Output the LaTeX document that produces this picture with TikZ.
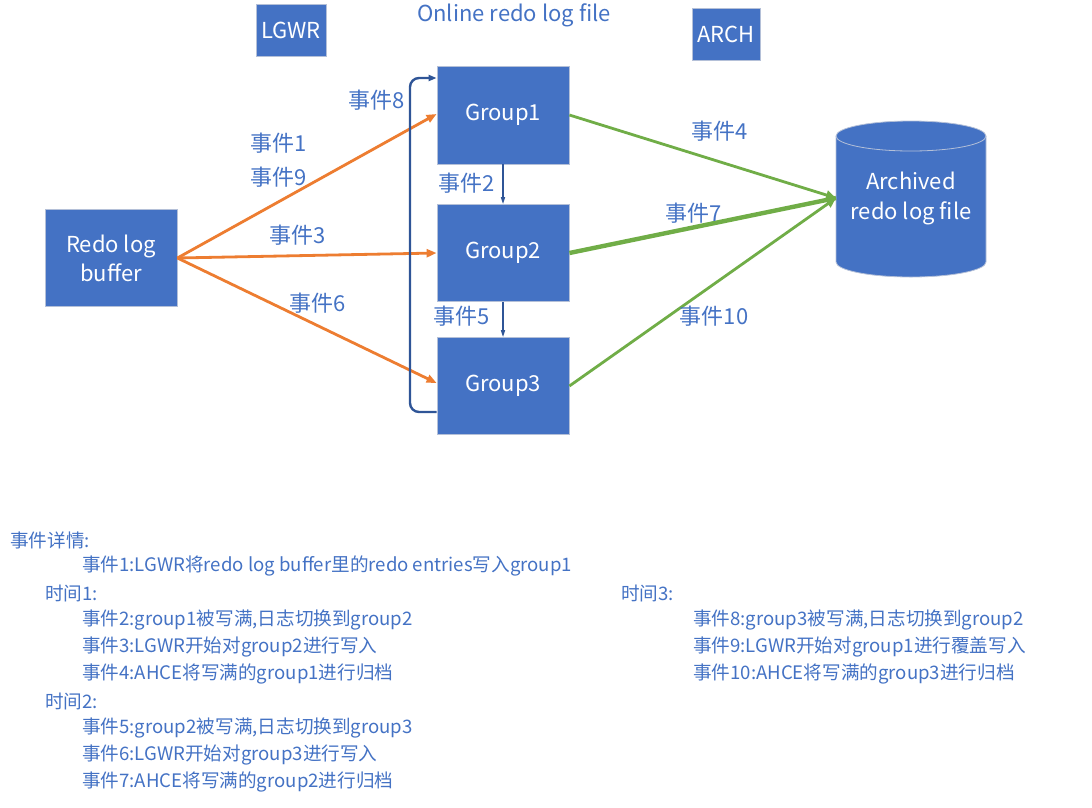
\documentclass[tikz,border=0pt]{standalone}
\usepackage{fontspec}
\setmainfont{Noto Sans CJK SC}
\usetikzlibrary{arrows.meta,calc}
\definecolor{boxblue}{HTML}{4472C4}
\definecolor{txtblue}{HTML}{4472C4}
\definecolor{darkblue}{HTML}{2F5597}
\definecolor{orng}{HTML}{ED7D31}
\definecolor{grn}{HTML}{70AD47}
\definecolor{edgegray}{HTML}{B4C0D8}
\tikzset{
  box/.style={draw=edgegray, line width=0.8pt, fill=boxblue, text=white, font=\fontsize{22}{29}\selectfont, align=center, inner sep=0pt},
  lbl/.style={text=txtblue, font=\fontsize{22}{26}\selectfont, inner sep=0pt},
  det/.style={text=txtblue, font=\fontsize{18.6}{20}\selectfont, inner sep=0pt, anchor=west},
  oarrow/.style={draw=orng, line width=2.8pt, -{Triangle[length=10pt,width=8pt]}},
  garrow/.style={draw=grn, line width=2.8pt, -{Triangle[length=10pt,width=9pt]}},
  barrow/.style={draw=darkblue, line width=1.4pt, -{Triangle[length=7pt,width=4pt]}},
}
\begin{document}
\begin{tikzpicture}[x=1pt,y=-1pt]
\useasboundingbox (0,0) rectangle (1092,807);
% top boxes
\node[box, minimum width=70pt, minimum height=52pt] (lgwr) at (291,30) {LGWR};
\node[box, minimum width=68pt, minimum height=52pt] (arch) at (726,34) {ARCH};
\node[lbl] (title) at (514,15) {Online redo log file};
% groups
\node[box, minimum width=132pt, minimum height=98pt] (g1) at (503,115) {Group1};
\node[box, minimum width=132pt, minimum height=97pt] (g2) at (503,253) {Group2};
\node[box, minimum width=132pt, minimum height=97pt] (g3) at (503,386) {Group3};
\node[box, minimum width=132pt, minimum height=97pt] (buf) at (111,258) {Redo log\\buffer};
% cylinder
\fill[boxblue] (836,136) -- (836,262) arc[start angle=180, end angle=0, x radius=75, y radius=15] -- (986,136) arc[start angle=0, end angle=-180, x radius=75, y radius=15] -- cycle;
\draw[edgegray, line width=0.8pt] (836,136) -- (836,262) arc[start angle=180, end angle=0, x radius=75, y radius=15] -- (986,136) arc[start angle=0, end angle=-180, x radius=75, y radius=15];
\draw[edgegray, line width=0.8pt] (836,136) arc[start angle=180, end angle=0, x radius=75, y radius=15];
\node[text=white, font=\fontsize{22}{30}\selectfont, align=center, inner sep=0pt] (arc) at (911,198) {Archived\\redo log file};
\coordinate (arcL) at (836,198);
% orange arrows
\draw[oarrow] (buf.east) -- ([yshift=1pt]g1.west);
\draw[oarrow] (buf.east) -- (g2.west);
\draw[oarrow] (buf.east) -- ([yshift=3pt]g3.west);
% green arrows
\draw[garrow] (g1.east) -- (arcL);
\draw[draw=grn, line width=4.4pt] (g2.east) -- (arcL);
\draw[garrow] (g3.east) -- (arcL);
% blue arrows
\draw[barrow] (g1.south) -- (g2.north);
\draw[barrow] (g2.south) -- (g3.north);
\draw[draw=darkblue, line width=2.4pt, rounded corners=9pt, -{Triangle[length=8pt,width=6pt]}] ([yshift=-26pt]g3.west) -| (410,100) |- ([yshift=37pt]g1.west);
% labels
\node[lbl] (e8) at (377,100) {事件8};
\node[lbl] (e1) at (279,143) {事件1};
\node[lbl] (e9) at (279,177) {事件9};
\node[lbl] (e3) at (298,235) {事件3};
\node[lbl] (e6) at (318,303) {事件6};
\node[lbl] (e2) at (467,183) {事件2};
\node[lbl] (e5) at (462,316) {事件5};
\node[lbl] (e4) at (720,131) {事件4};
\node[lbl] (e7) at (694,213) {事件7};
\node[lbl] (e10) at (714,316) {事件10};
% details
\node[det] (d0) at (10,540) {事件详情:};
\node[det] (d1) at (82,566) {事件1:LGWR将redo log buffer里的redo entries写入group1};
\node[det] (t1) at (45,593) {时间1:};
\node[det] (d2) at (82,620) {事件2:group1被写满,日志切换到group2};
\node[det] (d3) at (82,647) {事件3:LGWR开始对group2进行写入};
\node[det] (d4) at (82,674) {事件4:AHCE将写满的group1进行归档};
\node[det] (t2) at (45,701) {时间2:};
\node[det] (d5) at (82,728) {事件5:group2被写满,日志切换到group3};
\node[det] (d6) at (82,755) {事件6:LGWR开始对group3进行写入};
\node[det] (d7) at (82,782) {事件7:AHCE将写满的group2进行归档};
\node[det] (t3) at (621,593) {时间3:};
\node[det] (d8) at (693,620) {事件8:group3被写满,日志切换到group2};
\node[det] (d9) at (693,647) {事件9:LGWR开始对group1进行覆盖写入};
\node[det] (d10) at (693,674) {事件10:AHCE将写满的group3进行归档};
\end{tikzpicture}
\end{document}
